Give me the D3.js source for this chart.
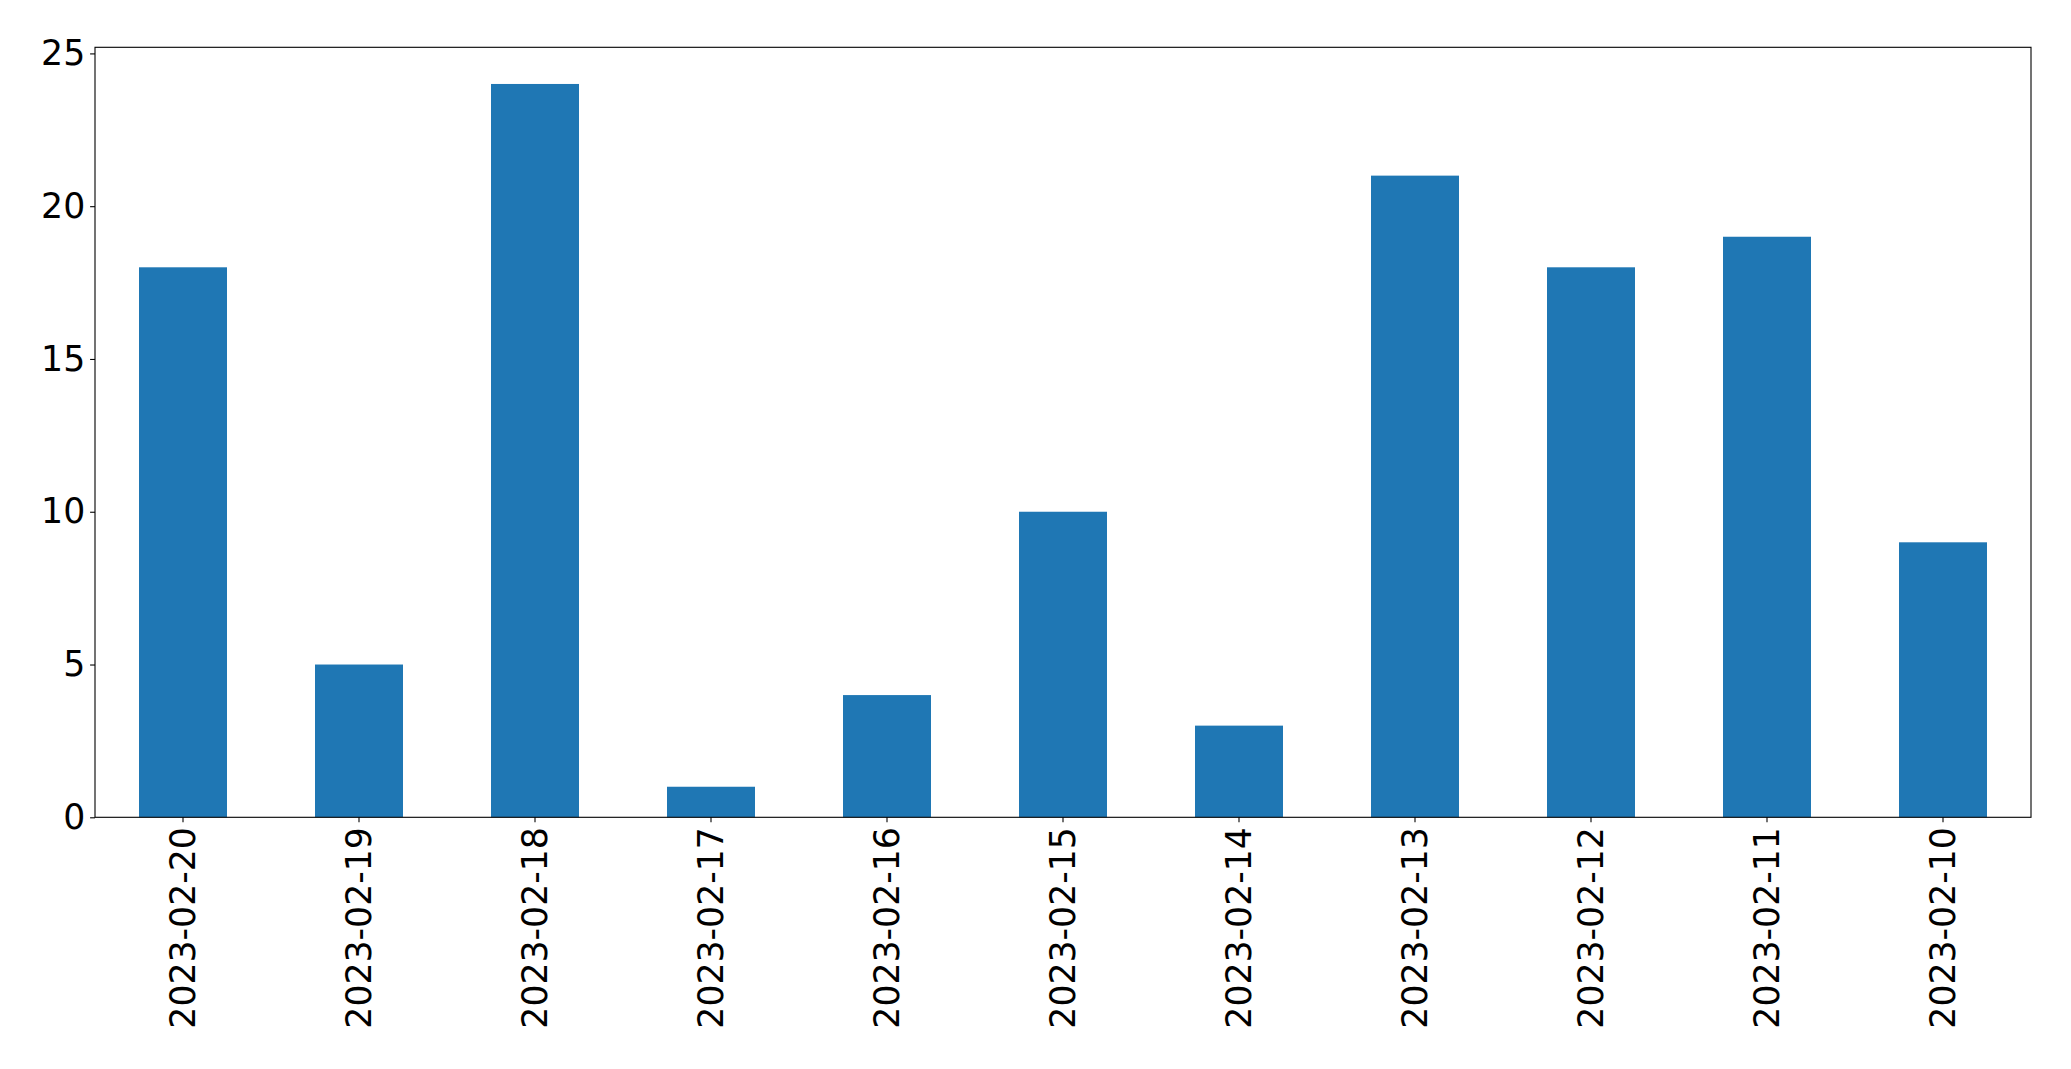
<!DOCTYPE html>
<html>
<head>
<meta charset="utf-8">
<script src="https://cdn.jsdelivr.net/npm/d3@7"></script>
<style>
html,body{margin:0;padding:0;background:#fff;}
svg{display:block;}
text{font-family:"DejaVu Sans",sans-serif;}
</style>
</head>
<body>
<svg id="chart" width="2071" height="1069"></svg>
<script>
const categories = ["2023-02-20","2023-02-19","2023-02-18","2023-02-17","2023-02-16","2023-02-15","2023-02-14","2023-02-13","2023-02-12","2023-02-11","2023-02-10"];
const values = [18,5,24,1,4,10,3,21,18,19,9];
const yTicks = [0,5,10,15,20,25];

(function(){
const plotLeft = 95, plotRight = 2031, plotTop = 47.3, plotBottom = 817.3;
const fontSize = 34.7;
const tickLen = 4.9, pad = 4.9;

const svg = d3.select("#chart");

const x = d3.scaleBand().domain(categories).range([plotLeft, plotRight]).paddingInner(0.5).paddingOuter(0.25);
const y = d3.scaleLinear().domain([0, 25.2]).range([plotBottom, plotTop]);

svg.append("g").selectAll("rect").data(values).join("rect")
  .attr("x", (d,i) => x(categories[i]))
  .attr("width", x.bandwidth())
  .attr("y", d => y(d))
  .attr("height", d => y(0) - y(d))
  .attr("fill", "#1f77b4");

svg.append("rect").attr("x", plotLeft).attr("y", plotTop).attr("width", plotRight-plotLeft).attr("height", plotBottom-plotTop)
  .attr("fill","none").attr("stroke","#000").attr("stroke-width",1.1);

const yAxis = d3.axisLeft(y).tickValues(yTicks).tickSize(tickLen).tickPadding(pad).tickFormat(d3.format("d"));
const gy = svg.append("g").attr("transform", `translate(${plotLeft},0)`).call(yAxis);
gy.select(".domain").remove();
gy.selectAll("line").attr("stroke","#000").attr("stroke-width",1.1);
gy.selectAll("text").attr("font-size", fontSize).attr("fill","#000").attr("font-family","DejaVu Sans, sans-serif");

const xAxis = d3.axisBottom(x).tickSize(tickLen).tickPadding(pad);
const gx = svg.append("g").attr("transform", `translate(0,${plotBottom})`).call(xAxis);
gx.select(".domain").remove();
gx.selectAll("line").attr("stroke","#000").attr("stroke-width",1.1);
gx.selectAll("text")
  .attr("font-size", fontSize).attr("fill","#000").attr("font-family","DejaVu Sans, sans-serif")
  .attr("transform", "rotate(-90)")
  .attr("text-anchor","end")
  .attr("x", -(tickLen + pad))
  .attr("y", 0)
  .attr("dy","0.35em");
})();
</script>
</body>
</html>
